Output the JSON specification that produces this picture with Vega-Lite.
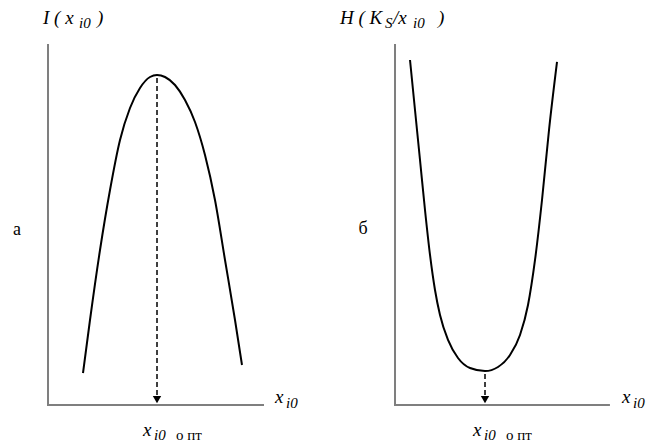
{
  "$schema": "https://vega.github.io/schema/vega-lite/v6.json",
  "padding": 0,
  "background": "white",
  "spacing": 0,
  "config": {"view": {"stroke": null}},
  "datasets": {
    "curve": [
      {"panel": "a", "x": 1.628, "y": 0.889},
      {"panel": "a", "x": 1.953, "y": 2.361},
      {"panel": "a", "x": 2.419, "y": 4.306},
      {"panel": "a", "x": 2.884, "y": 5.972},
      {"panel": "a", "x": 3.349, "y": 7.361},
      {"panel": "a", "x": 3.814, "y": 8.25},
      {"panel": "a", "x": 4.279, "y": 8.806},
      {"panel": "a", "x": 4.744, "y": 9.111},
      {"panel": "a", "x": 5.07, "y": 9.167},
      {"panel": "a", "x": 5.442, "y": 9.111},
      {"panel": "a", "x": 5.907, "y": 8.889},
      {"panel": "a", "x": 6.372, "y": 8.472},
      {"panel": "a", "x": 6.837, "y": 7.861},
      {"panel": "a", "x": 7.302, "y": 6.944},
      {"panel": "a", "x": 7.767, "y": 5.694},
      {"panel": "a", "x": 8.233, "y": 4.028},
      {"panel": "a", "x": 8.698, "y": 2.361},
      {"panel": "a", "x": 9.023, "y": 1.111},
      {"panel": "b", "x": 0.698, "y": 9.583},
      {"panel": "b", "x": 0.93, "y": 8.194},
      {"panel": "b", "x": 1.163, "y": 6.806},
      {"panel": "b", "x": 1.395, "y": 5.417},
      {"panel": "b", "x": 1.628, "y": 4.167},
      {"panel": "b", "x": 1.86, "y": 3.194},
      {"panel": "b", "x": 2.093, "y": 2.5},
      {"panel": "b", "x": 2.465, "y": 1.806},
      {"panel": "b", "x": 2.93, "y": 1.306},
      {"panel": "b", "x": 3.488, "y": 1.028},
      {"panel": "b", "x": 4.186, "y": 0.944},
      {"panel": "b", "x": 4.791, "y": 1.056},
      {"panel": "b", "x": 5.349, "y": 1.389},
      {"panel": "b", "x": 5.814, "y": 1.944},
      {"panel": "b", "x": 6.186, "y": 2.778},
      {"panel": "b", "x": 6.512, "y": 4.028},
      {"panel": "b", "x": 6.837, "y": 5.694},
      {"panel": "b", "x": 7.163, "y": 7.639},
      {"panel": "b", "x": 7.535, "y": 9.528}
    ],
    "axes": [
      {"panel": "a", "x": 0, "y": 0, "x2": 0, "y2": 10},
      {"panel": "a", "x": 0, "y": 0, "x2": 10, "y2": 0},
      {"panel": "b", "x": 0, "y": 0, "x2": 0, "y2": 10},
      {"panel": "b", "x": 0, "y": 0, "x2": 9.95, "y2": 0}
    ],
    "arrows": [
      {"panel": "a", "x": 5.07, "y": 9.08, "y2": 0.25, "head": 0.15},
      {"panel": "b", "x": 4.186, "y": 0.86, "y2": 0.25, "head": 0.15}
    ],
    "labels": [
      {"panel": "a", "kind": "main", "x": -0.233, "y": 10.75, "text": "I ( x"},
      {"panel": "a", "kind": "sub", "x": 1.442, "y": 10.61, "text": "i0"},
      {"panel": "a", "kind": "main", "x": 2.279, "y": 10.75, "text": ")"},
      {"panel": "a", "kind": "main", "x": 10.558, "y": 0.222, "text": "x"},
      {"panel": "a", "kind": "sub", "x": 11.07, "y": 0.06, "text": "i0"},
      {"panel": "a", "kind": "main", "x": 4.419, "y": -0.694, "text": "x"},
      {"panel": "a", "kind": "sub", "x": 4.93, "y": -0.833, "text": "i0"},
      {"panel": "a", "kind": "subup", "x": 5.95, "y": -0.833, "text": "о пт"},
      {"panel": "a", "kind": "letter", "x": -1.442, "y": 4.861, "text": "а"},
      {"panel": "b", "kind": "main", "x": -2.558, "y": 10.75, "text": "H ( K"},
      {"panel": "b", "kind": "sub", "x": -0.46, "y": 10.61, "text": "S"},
      {"panel": "b", "kind": "main", "x": -0.093, "y": 10.75, "text": "/x"},
      {"panel": "b", "kind": "sub", "x": 0.837, "y": 10.61, "text": "i0"},
      {"panel": "b", "kind": "main", "x": 2.0, "y": 10.75, "text": ")"},
      {"panel": "b", "kind": "main", "x": 10.558, "y": 0.222, "text": "x"},
      {"panel": "b", "kind": "sub", "x": 11.07, "y": 0.06, "text": "i0"},
      {"panel": "b", "kind": "main", "x": 3.628, "y": -0.694, "text": "x"},
      {"panel": "b", "kind": "sub", "x": 4.14, "y": -0.833, "text": "i0"},
      {"panel": "b", "kind": "subup", "x": 5.16, "y": -0.833, "text": "о пт"},
      {"panel": "b", "kind": "letter", "x": -1.488, "y": 4.889, "text": "б"}
    ]
  },
  "hconcat": [
    {
      "width": 325,
      "height": 443,
      "layer": [
        {
          "data": {"name": "axes"},
          "transform": [{"filter": "datum.panel === 'a'"}],
          "mark": {"type": "rule", "stroke": "#7f7f7f", "strokeWidth": 2, "strokeCap": "square"},
          "encoding": {
            "x": {"field": "x", "type": "quantitative", "axis": null, "scale": {"domain": [-2.233, 12.884], "nice": false, "zero": false}},
            "y": {"field": "y", "type": "quantitative", "axis": null, "scale": {"domain": [-1.0556, 11.25], "nice": false, "zero": false}},
            "x2": {"field": "x2"},
            "y2": {"field": "y2"}
          }
        },
        {
          "data": {"name": "curve"},
          "transform": [{"filter": "datum.panel === 'a'"}],
          "mark": {"type": "line", "color": "black", "strokeWidth": 2, "interpolate": "monotone"},
          "encoding": {
            "x": {"field": "x", "type": "quantitative", "axis": null},
            "y": {"field": "y", "type": "quantitative", "axis": null}
          }
        },
        {
          "data": {"name": "arrows"},
          "transform": [{"filter": "datum.panel === 'a'"}],
          "mark": {"type": "rule", "color": "black", "strokeWidth": 1.5, "strokeDash": [5, 3]},
          "encoding": {
            "x": {"field": "x", "type": "quantitative", "axis": null},
            "y": {"field": "y", "type": "quantitative", "axis": null},
            "y2": {"field": "y2"}
          }
        },
        {
          "data": {"name": "arrows"},
          "transform": [{"filter": "datum.panel === 'a'"}],
          "mark": {"type": "point", "shape": "triangle-down", "filled": true, "color": "black", "opacity": 1, "size": 70},
          "encoding": {
            "x": {"field": "x", "type": "quantitative", "axis": null},
            "y": {"field": "head", "type": "quantitative", "axis": null}
          }
        },
        {
          "data": {"name": "labels"},
          "transform": [{"filter": "datum.panel === 'a' && datum.kind === 'main'"}],
          "mark": {"type": "text", "font": "Liberation Serif", "fontStyle": "italic", "fontSize": 19, "align": "left", "baseline": "middle", "color": "black"},
          "encoding": {
            "x": {"field": "x", "type": "quantitative", "axis": null},
            "y": {"field": "y", "type": "quantitative", "axis": null},
            "text": {"field": "text"}
          }
        },
        {
          "data": {"name": "labels"},
          "transform": [{"filter": "datum.panel === 'a' && datum.kind === 'sub'"}],
          "mark": {"type": "text", "font": "Liberation Serif", "fontStyle": "italic", "fontSize": 15, "align": "left", "baseline": "middle", "color": "black"},
          "encoding": {
            "x": {"field": "x", "type": "quantitative", "axis": null},
            "y": {"field": "y", "type": "quantitative", "axis": null},
            "text": {"field": "text"}
          }
        },
        {
          "data": {"name": "labels"},
          "transform": [{"filter": "datum.panel === 'a' && datum.kind === 'subup'"}],
          "mark": {"type": "text", "font": "Liberation Serif", "fontSize": 15, "align": "left", "baseline": "middle", "color": "black"},
          "encoding": {
            "x": {"field": "x", "type": "quantitative", "axis": null},
            "y": {"field": "y", "type": "quantitative", "axis": null},
            "text": {"field": "text"}
          }
        },
        {
          "data": {"name": "labels"},
          "transform": [{"filter": "datum.panel === 'a' && datum.kind === 'letter'"}],
          "mark": {"type": "text", "font": "Liberation Serif", "fontSize": 18, "align": "center", "baseline": "middle", "color": "black"},
          "encoding": {
            "x": {"field": "x", "type": "quantitative", "axis": null},
            "y": {"field": "y", "type": "quantitative", "axis": null},
            "text": {"field": "text"}
          }
        }
      ]
    },
    {
      "width": 325,
      "height": 443,
      "layer": [
        {
          "data": {"name": "axes"},
          "transform": [{"filter": "datum.panel === 'b'"}],
          "mark": {"type": "rule", "stroke": "#7f7f7f", "strokeWidth": 2, "strokeCap": "square"},
          "encoding": {
            "x": {"field": "x", "type": "quantitative", "axis": null, "scale": {"domain": [-3.256, 11.86], "nice": false, "zero": false}},
            "y": {"field": "y", "type": "quantitative", "axis": null, "scale": {"domain": [-1.0556, 11.25], "nice": false, "zero": false}},
            "x2": {"field": "x2"},
            "y2": {"field": "y2"}
          }
        },
        {
          "data": {"name": "curve"},
          "transform": [{"filter": "datum.panel === 'b'"}],
          "mark": {"type": "line", "color": "black", "strokeWidth": 2, "interpolate": "monotone"},
          "encoding": {
            "x": {"field": "x", "type": "quantitative", "axis": null},
            "y": {"field": "y", "type": "quantitative", "axis": null}
          }
        },
        {
          "data": {"name": "arrows"},
          "transform": [{"filter": "datum.panel === 'b'"}],
          "mark": {"type": "rule", "color": "black", "strokeWidth": 1.5, "strokeDash": [5, 3]},
          "encoding": {
            "x": {"field": "x", "type": "quantitative", "axis": null},
            "y": {"field": "y", "type": "quantitative", "axis": null},
            "y2": {"field": "y2"}
          }
        },
        {
          "data": {"name": "arrows"},
          "transform": [{"filter": "datum.panel === 'b'"}],
          "mark": {"type": "point", "shape": "triangle-down", "filled": true, "color": "black", "opacity": 1, "size": 70},
          "encoding": {
            "x": {"field": "x", "type": "quantitative", "axis": null},
            "y": {"field": "head", "type": "quantitative", "axis": null}
          }
        },
        {
          "data": {"name": "labels"},
          "transform": [{"filter": "datum.panel === 'b' && datum.kind === 'main'"}],
          "mark": {"type": "text", "font": "Liberation Serif", "fontStyle": "italic", "fontSize": 19, "align": "left", "baseline": "middle", "color": "black"},
          "encoding": {
            "x": {"field": "x", "type": "quantitative", "axis": null},
            "y": {"field": "y", "type": "quantitative", "axis": null},
            "text": {"field": "text"}
          }
        },
        {
          "data": {"name": "labels"},
          "transform": [{"filter": "datum.panel === 'b' && datum.kind === 'sub'"}],
          "mark": {"type": "text", "font": "Liberation Serif", "fontStyle": "italic", "fontSize": 15, "align": "left", "baseline": "middle", "color": "black"},
          "encoding": {
            "x": {"field": "x", "type": "quantitative", "axis": null},
            "y": {"field": "y", "type": "quantitative", "axis": null},
            "text": {"field": "text"}
          }
        },
        {
          "data": {"name": "labels"},
          "transform": [{"filter": "datum.panel === 'b' && datum.kind === 'subup'"}],
          "mark": {"type": "text", "font": "Liberation Serif", "fontSize": 15, "align": "left", "baseline": "middle", "color": "black"},
          "encoding": {
            "x": {"field": "x", "type": "quantitative", "axis": null},
            "y": {"field": "y", "type": "quantitative", "axis": null},
            "text": {"field": "text"}
          }
        },
        {
          "data": {"name": "labels"},
          "transform": [{"filter": "datum.panel === 'b' && datum.kind === 'letter'"}],
          "mark": {"type": "text", "font": "Liberation Serif", "fontSize": 18, "align": "center", "baseline": "middle", "color": "black"},
          "encoding": {
            "x": {"field": "x", "type": "quantitative", "axis": null},
            "y": {"field": "y", "type": "quantitative", "axis": null},
            "text": {"field": "text"}
          }
        }
      ]
    }
  ]
}
